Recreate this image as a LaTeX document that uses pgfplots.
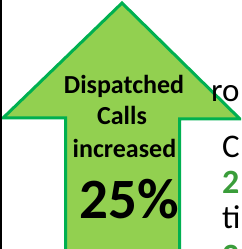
\documentclass[border=0pt]{standalone}
\usepackage{pgfplots}
\pgfplotsset{compat=1.18}
\usepackage{fontspec}
\setmainfont{Carlito}
\definecolor{arrowfill}{HTML}{92D050}
\definecolor{arrowline}{HTML}{00B050}
\definecolor{txtgreen}{HTML}{3A9D3A}
\begin{document}
\begin{tikzpicture}
\useasboundingbox (0,0) rectangle (241pt,249pt);
\begin{axis}[at={(0,0)},anchor=south west,
  width=241pt,height=249pt,scale only axis,
  xmin=0,xmax=241,ymin=0,ymax=249,
  axis lines=none,clip=true]
% arrow outline (y measured upward)
\addplot[fill=arrowfill,draw=arrowline,line width=3pt,line join=miter]
  coordinates {(65.5,-10) (65.5,131) (3,131) (122,246) (240,130) (179.5,130) (179.5,-10)} -- cycle;
% black rule at the left edge
\addplot[black,line width=2pt] coordinates {(1,-5) (1,260)};
\end{axis}
\node[anchor=base,inner sep=0pt,font=\bfseries\fontsize{26}{26}\selectfont] at (124pt,155pt) {Dispatched};
\node[anchor=base,inner sep=0pt,font=\bfseries\fontsize{26}{26}\selectfont] at (122pt,124pt) {Calls};
\node[anchor=base,inner sep=0pt,font=\bfseries\fontsize{26}{26}\selectfont] at (124.5pt,91pt) {increased};
\node[anchor=base,inner sep=0pt,font=\bfseries\fontsize{57}{57}\selectfont] at (129pt,30pt) {25\%};
\node[anchor=base west,inner sep=0pt,font=\fontsize{33}{33}\selectfont] at (211pt,147pt) {ro};
\node[anchor=base west,inner sep=0pt,font=\fontsize{33}{33}\selectfont] at (222pt,91pt) {C};
\node[anchor=base west,inner sep=0pt,font=\bfseries\fontsize{34}{34}\selectfont,text=txtgreen] at (222pt,55pt) {2};
\node[anchor=base west,inner sep=0pt,font=\fontsize{33}{33}\selectfont] at (222pt,20pt) {ti};
\node[anchor=base west,inner sep=0pt,font=\bfseries\fontsize{34}{34}\selectfont,text=txtgreen] at (222pt,-19pt) {2};
\end{tikzpicture}
\end{document}
